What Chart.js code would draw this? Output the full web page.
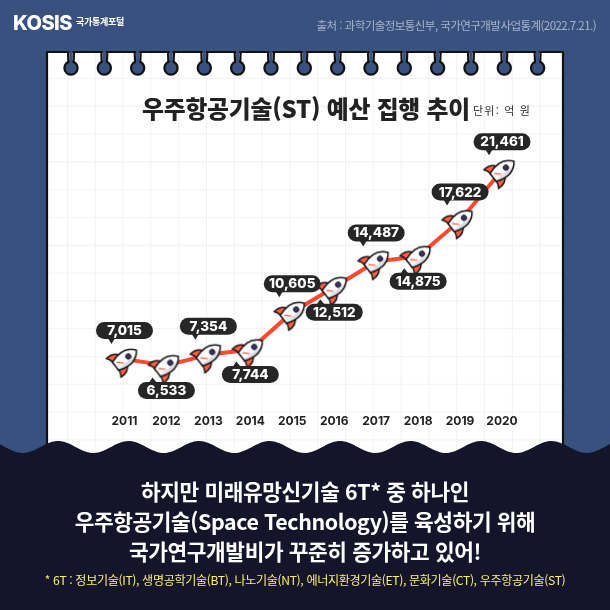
<!DOCTYPE html>
<html lang="ko">
<head>
    <meta charset="UTF-8">
    <title>우주항공기술(ST) 예산 집행 추이</title>
    <script src="https://cdn.jsdelivr.net/npm/chart.js"></script>
    <style>
        html, body { margin: 0; padding: 0; background: #38517f; }
        #wrap { position: relative; width: 610px; height: 610px; overflow: hidden; font-family: "Noto Sans CJK KR", sans-serif; }
        #myChart { position: absolute; left: 0; top: 0; }
        .txt { position: absolute; white-space: nowrap; line-height: 1; }
        .center { left: 0; width: 610px; text-align: center; color: #fff; font-size: 21.4px; font-weight: 700; letter-spacing: -0.4px; }
    </style>
</head>
<body>
    <div id="wrap">
        <canvas id="myChart" width="610" height="610"></canvas>
        <div class="txt" style="left:13px;top:11px;color:#fff;font:800 20px Inter,sans-serif;letter-spacing:-0.5px">KOSIS</div>
        <div class="txt" style="left:76px;top:17px;color:#fff;font-size:9px;font-weight:700;letter-spacing:-0.3px">국가통계포털</div>
        <div class="txt" style="right:14px;top:20px;color:#a9b4c9;font-size:11.5px;letter-spacing:-0.55px">출처 : 과학기술정보통신부, 국가연구개발사업통계(2022.7.21.)</div>
        <div class="txt" style="left:142px;top:96px;color:#222;font-size:23.8px;font-weight:900;letter-spacing:-0.2px">우주항공기술(ST) 예산 집행 추이</div>
        <div class="txt" style="left:473px;top:105px;color:#333;font-size:11px;letter-spacing:1.2px">단위: 억 원</div>
        <div class="txt center" style="top:480px">하지만 미래유망신기술 6T* 중 하나인</div>
        <div class="txt center" style="top:510px">우주항공기술(Space Technology)를 육성하기 위해</div>
        <div class="txt center" style="top:540px">국가연구개발비가 꾸준히 증가하고 있어!</div>
        <div class="txt" style="left:0;width:610px;text-align:center;top:574px;color:#fff06a;font-size:12.1px;font-weight:400;letter-spacing:-0.35px">* 6T : 정보기술(IT), 생명공학기술(BT), 나노기술(NT), 에너지환경기술(ET), 문화기술(CT), 우주항공기술(ST)</div>
    </div>

    <script>
        const years = ['2011', '2012', '2013', '2014', '2015', '2016', '2017', '2018', '2019', '2020'];
        const budget = [7015, 6533, 7354, 7744, 10605, 12512, 14487, 14875, 17622, 21461];
        const labelSide = ['up', 'down', 'up', 'down', 'up', 'down', 'up', 'down', 'up', 'up'];

        const BLUE = '#38517f';
        const NAVY = '#14142b';
        const RED = '#ff4a32';

        // rocket image used as the point style
        function makeRocket() {
            const c = document.createElement('canvas');
            c.width = 44;
            c.height = 44;
            const g = c.getContext('2d');
            g.translate(20.5, 23.5);
            g.rotate(52 * Math.PI / 180);
            g.scale(0.85, 0.85);
            g.lineJoin = 'round';
            g.strokeStyle = '#111';
            g.lineWidth = 1.7;

            // fins
            g.fillStyle = '#ff5f46';
            g.beginPath();
            g.moveTo(-7, -1);
            g.quadraticCurveTo(-15, 3, -14, 14);
            g.quadraticCurveTo(-9, 10, -4, 11);
            g.closePath();
            g.fill();
            g.stroke();
            g.beginPath();
            g.moveTo(7, -1);
            g.quadraticCurveTo(15, 3, 14, 14);
            g.quadraticCurveTo(9, 10, 4, 11);
            g.closePath();
            g.fill();
            g.stroke();

            // body
            g.fillStyle = '#fff';
            g.beginPath();
            g.moveTo(0, -20);
            g.bezierCurveTo(10, -13, 11, -2, 6, 11);
            g.lineTo(-6, 11);
            g.bezierCurveTo(-11, -2, -10, -13, 0, -20);
            g.closePath();
            g.fill();
            g.save();
            g.clip();
            g.fillStyle = '#dcdce2';
            g.fillRect(4, -22, 8, 36);
            g.restore();
            g.stroke();

            // window
            g.fillStyle = '#3e2f66';
            g.beginPath();
            g.arc(0, -8, 3.2, 0, Math.PI * 2);
            g.fill();
            g.lineWidth = 1;
            g.stroke();

            // stripe on the lower body
            g.strokeStyle = RED;
            g.lineWidth = 1.4;
            g.beginPath();
            g.moveTo(-3, 7);
            g.lineTo(3, 1);
            g.stroke();
            return c;
        }

        // notebook paper, holes and the dark wave behind the chart
        const paperPlugin = {
            id: 'paper',
            beforeDraw(chart) {
                const g = chart.ctx;
                g.save();
                g.fillStyle = BLUE;
                g.fillRect(0, 0, 610, 610);

                g.fillStyle = '#fff';
                g.fillRect(47, 52, 516, 410);
                g.strokeStyle = '#f2f2f2';
                g.lineWidth = 1;
                g.beginPath();
                for (let x = 67; x < 563; x += 27.8) {
                    g.moveTo(x + 0.5, 52);
                    g.lineTo(x + 0.5, 462);
                }
                for (let y = 78; y < 462; y += 27.8) {
                    g.moveTo(47, y + 0.5);
                    g.lineTo(563, y + 0.5);
                }
                g.stroke();

                g.strokeStyle = '#111';
                g.lineWidth = 2.2;
                g.lineJoin = 'round';
                g.strokeRect(47, 52, 516, 410);

                for (let i = 0; i < 15; i++) {
                    const x = 71 + i * 33.33;
                    g.fillStyle = BLUE;
                    g.strokeStyle = '#111';
                    g.lineWidth = 2.2;
                    g.beginPath();
                    g.arc(x, 68, 6.6, 0, Math.PI * 2);
                    g.fill();
                    g.stroke();
                    g.fillRect(x - 1.6, 51, 3.2, 12);
                    g.beginPath();
                    g.moveTo(x - 3, 52);
                    g.lineTo(x - 2.6, 62);
                    g.moveTo(x + 3, 52);
                    g.lineTo(x + 2.6, 62);
                    g.stroke();
                }

                g.fillStyle = NAVY;
                g.beginPath();
                g.moveTo(0, 610);
                for (let x = 0; x <= 610; x += 2) {
                    g.lineTo(x, 447 - 6 * Math.cos(2 * Math.PI * (x - 58) / 70.5));
                }
                g.lineTo(610, 610);
                g.closePath();
                g.fill();
                g.restore();
            }
        };

        // value bubbles above or below each rocket
        const bubblePlugin = {
            id: 'bubbles',
            afterDatasetsDraw(chart) {
                const g = chart.ctx;
                const w = 57, h = 17;
                chart.getDatasetMeta(0).data.forEach((pt, i) => {
                    const up = labelSide[i] === 'up';
                    const cx = pt.x;
                    const cy = up ? pt.y - 28.5 : pt.y + 25;
                    g.save();
                    g.fillStyle = '#262626';
                    g.beginPath();
                    g.roundRect(cx - w / 2, cy - h / 2, w, h, h / 2);
                    g.fill();
                    g.beginPath();
                    if (up) {
                        g.moveTo(cx - 17, cy + 7);
                        g.lineTo(cx - 13, cy + 13.5);
                        g.lineTo(cx - 9, cy + 7);
                    } else {
                        g.moveTo(cx - 18, cy - 7);
                        g.lineTo(cx - 14, cy - 13);
                        g.lineTo(cx - 9, cy - 7);
                    }
                    g.fill();
                    g.fillStyle = '#fff';
                    g.font = '800 13.5px Inter, sans-serif';
                    g.textAlign = 'center';
                    g.textBaseline = 'middle';
                    g.fillText(budget[i].toLocaleString('en-US'), cx, cy + 0.5);
                    g.restore();
                });
            }
        };

        new Chart(document.getElementById('myChart'), {
            type: 'line',
            data: {
                labels: years,
                datasets: [{
                    data: budget,
                    borderColor: RED,
                    borderWidth: 4,
                    tension: 0,
                    pointStyle: makeRocket(),
                    pointRadius: 16
                }]
            },
            options: {
                responsive: false,
                animation: false,
                layout: { padding: { left: 103.5, right: 87, top: 124, bottom: 178 } },
                plugins: {
                    legend: { display: false },
                    tooltip: { enabled: false }
                },
                scales: {
                    x: {
                        offset: true,
                        grid: { display: false, drawTicks: false },
                        border: { display: false },
                        ticks: {
                            color: '#222',
                            padding: 3,
                            autoSkip: false,
                            maxRotation: 0,
                            font: { family: 'Inter, sans-serif', size: 12, weight: '700' }
                        }
                    },
                    y: { display: false, min: 3000, max: 25000 }
                }
            },
            plugins: [paperPlugin, bubblePlugin]
        });
    </script>
</body>
</html>
